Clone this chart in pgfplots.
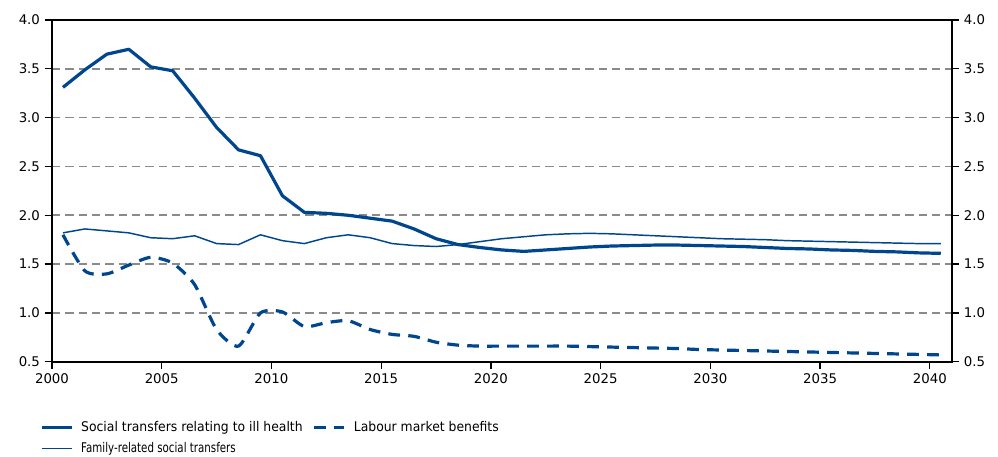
\documentclass[border=0pt]{standalone}
\usepackage{fontspec}
\setmainfont{DejaVu Sans}
\newfontfamily\narrowfont[FakeStretch=0.77]{DejaVu Sans}
\newfontfamily\legfont[FakeStretch=0.93]{DejaVu Sans}
\usepackage{pgfplots}
\usepackage{pgfplotstable}
\pgfplotsset{compat=1.18}
\definecolor{ecbblue}{HTML}{00468F}
\definecolor{gridgray}{HTML}{8A8A8A}

\pgfplotstableread{
x y
2000.5 3.31
2001.5 3.49
2002.5 3.65
2003.5 3.70
2004.5 3.52
2005.5 3.48
2006.5 3.20
2007.5 2.90
2008.5 2.67
2009.5 2.61
2010.5 2.20
2011.5 2.03
2012.5 2.02
2013.5 2.00
2014.5 1.97
2015.5 1.94
2016.5 1.86
2017.5 1.76
2018.5 1.70
2019.5 1.67
2020.5 1.645
2021.5 1.63
2022.5 1.645
2023.5 1.66
2024.5 1.675
2025.5 1.685
2026.5 1.69
2027.5 1.695
2028.5 1.695
2029.5 1.69
2030.5 1.685
2031.5 1.68
2032.5 1.67
2033.5 1.66
2034.5 1.655
2035.5 1.645
2036.5 1.64
2037.5 1.63
2038.5 1.625
2039.5 1.615
2040.5 1.61
}\illhealth

\pgfplotstableread{
x y
2000.5 1.80
2001.5 1.43
2002.5 1.40
2003.5 1.49
2004.5 1.57
2005.5 1.51
2006.5 1.29
2007.5 0.83
2008.5 0.66
2009.5 1.00
2010.5 1.01
2011.5 0.86
2012.5 0.90
2013.5 0.92
2014.5 0.83
2015.5 0.78
2016.5 0.76
2017.5 0.70
2018.5 0.67
2019.5 0.66
2020.5 0.66
2021.5 0.66
2022.5 0.66
2023.5 0.66
2024.5 0.655
2025.5 0.65
2026.5 0.645
2027.5 0.64
2028.5 0.635
2029.5 0.625
2030.5 0.62
2031.5 0.615
2032.5 0.61
2033.5 0.605
2034.5 0.60
2035.5 0.595
2036.5 0.59
2037.5 0.585
2038.5 0.58
2039.5 0.575
2040.5 0.57
}\labour

\pgfplotstableread{
x y
2000.5 1.82
2001.5 1.86
2002.5 1.84
2003.5 1.82
2004.5 1.77
2005.5 1.76
2006.5 1.79
2007.5 1.71
2008.5 1.70
2009.5 1.80
2010.5 1.74
2011.5 1.71
2012.5 1.77
2013.5 1.80
2014.5 1.77
2015.5 1.71
2016.5 1.69
2017.5 1.68
2018.5 1.70
2019.5 1.73
2020.5 1.76
2021.5 1.78
2022.5 1.80
2023.5 1.81
2024.5 1.815
2025.5 1.81
2026.5 1.80
2027.5 1.79
2028.5 1.78
2029.5 1.77
2030.5 1.76
2031.5 1.755
2032.5 1.75
2033.5 1.74
2034.5 1.735
2035.5 1.73
2036.5 1.725
2037.5 1.72
2038.5 1.715
2039.5 1.71
2040.5 1.71
}\family

\begin{document}
\begin{tikzpicture}
\pgfplotsset{
  common/.style={
    scale only axis, width=674.8pt, height=256.3pt,
    xmin=2000, xmax=2041, ymin=0.5, ymax=4.0,
    xtick={2000,2005,2010,2015,2020,2025,2030,2035,2040},
    ytick={0.5,1.0,1.5,2.0,2.5,3.0,3.5,4.0},
    tick align=outside,
    major tick length=5.5pt,
    tick style={black, line width=1pt},
    axis line style={black, line width=1.3pt},
    /pgf/number format/assume math mode=true,
    ticklabel style={font=\fontsize{10}{12}\selectfont},
    yticklabel style={/pgf/number format/.cd, fixed, fixed zerofill, precision=1},
    xticklabel style={/pgf/number format/1000 sep={}},
  }
}
\begin{axis}[common,
  name=main,
  xtick pos=bottom, ytick pos=left,
  ymajorgrids,
  grid style={gridgray, line width=1.25pt, dash pattern=on 6.2pt off 3.8pt},
  legend columns=2,
  legend cell align=left,
  legend style={draw=none, fill=none, at={(0,0)}, anchor=north west,
    xshift=-9pt, yshift=-44.5pt, inner sep=0pt, outer sep=0pt,
    font=\fontsize{10}{12}\selectfont,
    nodes={inner sep=0pt, text height=7.5pt, text depth=2pt},
    column sep=6pt, row sep=6.5pt,
    /tikz/every even column/.append style={column sep=7.5pt}},
  legend image code/.code={\draw[#1] (0pt,0pt) -- (22.5pt,0pt);},
]
\addplot[ecbblue, line width=2.4pt, line join=round] table[x=x,y=y]{\illhealth};
\addlegendentry{\legfont Social transfers relating to ill health}
\addplot[ecbblue, line width=2.4pt, dash pattern=on 8.8pt off 6.2pt, smooth, tension=0.4] table[x=x,y=y]{\labour};
\addlegendentry{\legfont Labour market benefits}
\addplot[ecbblue, line width=1.1pt, line join=round] table[x=x,y=y]{\family};
\addlegendentry{\narrowfont Family-related social transfers}
\end{axis}
\begin{axis}[common,
  hide x axis,
  axis y line*=right,
  ytick pos=right, yticklabel pos=right,
]
\end{axis}
\path ([xshift=-39pt, yshift=-71.25pt]main.south west) rectangle ([xshift=34.7pt, yshift=15pt]main.north east);
\end{tikzpicture}
\end{document}
